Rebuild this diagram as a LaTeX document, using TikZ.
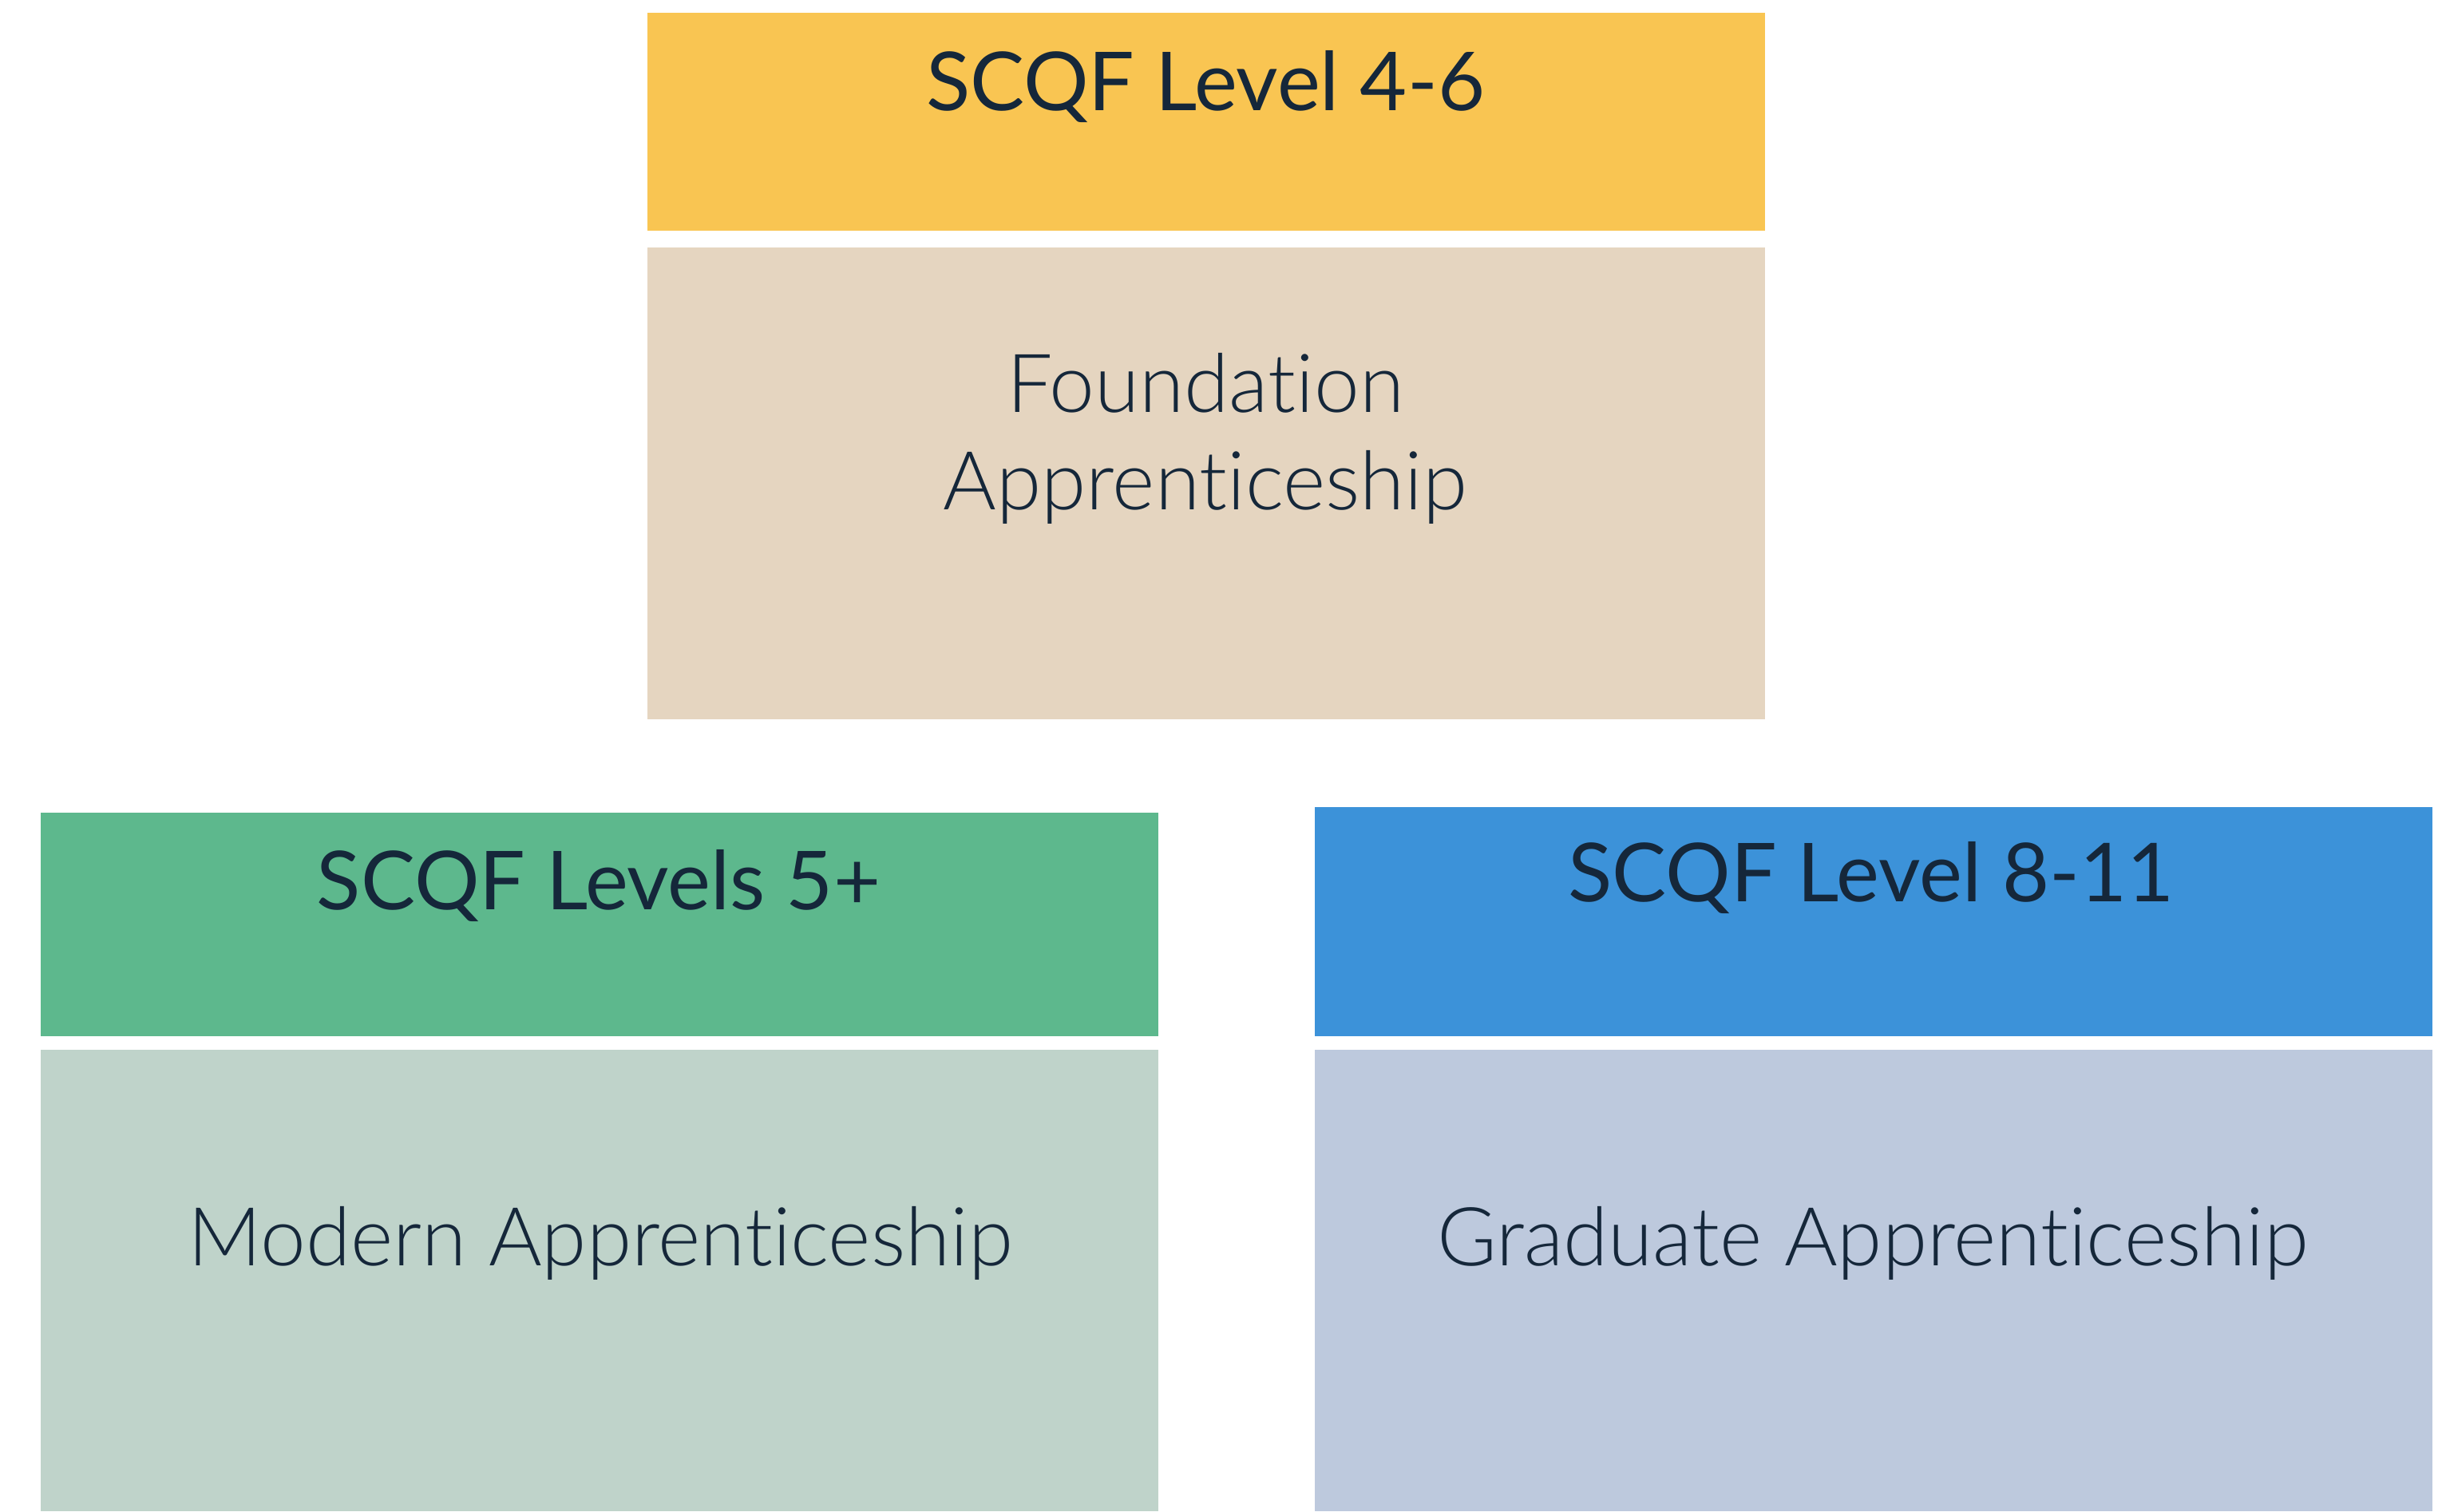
\documentclass[tikz,border=0pt]{standalone}
\usepackage{fontspec}
\setmainfont{Lato}
\newfontfamily\headfont[Ligatures=NoCommon]{Lato}
\newfontfamily\bodyfont[Ligatures=NoCommon]{Lato Light}
\definecolor{cyellow}{HTML}{F9C552}
\definecolor{cbeige}{HTML}{E5D5C0}
\definecolor{cgreen}{HTML}{5DB88D}
\definecolor{clgreen}{HTML}{BFD3CA}
\definecolor{cblue}{HTML}{3C92D9}
\definecolor{clblue}{HTML}{BDC9DD}
\definecolor{ctext}{HTML}{15273A}
\begin{document}
\begin{tikzpicture}[
  panel/.style={draw=none, anchor=south west, inner sep=0pt, minimum width=14cm},
  headtext/.style={anchor=base, inner sep=0pt, text=ctext, font=\headfont\fontsize{29}{34}\selectfont},
  bodytext/.style={anchor=base, inner sep=0pt, text=ctext, font=\bodyfont\fontsize{29}{34}\selectfont},
]
\useasboundingbox (0,0) rectangle (30.59,18.94);
% top column
\node[panel, fill=cyellow, minimum height=2.73cm] (fahead) at (8.10,16.04) {};
\node[panel, fill=cbeige, minimum height=5.91cm] (fabody) at (8.10,9.92) {};
% left column
\node[panel, fill=cgreen, minimum height=2.80cm] (mahead) at (0.50,5.95) {};
\node[panel, fill=clgreen, minimum height=5.78cm] (mabody) at (0.50,0) {};
% right column
\node[panel, fill=cblue, minimum height=2.87cm] (gahead) at (16.46,5.95) {};
\node[panel, fill=clblue, minimum height=5.78cm] (gabody) at (16.46,0) {};
% texts
\node[headtext] (fatitle) at (15.10,17.55) {SCQF Level 4-6};
\node[bodytext] (fa1) at (15.10,13.77) {Foundation};
\node[bodytext] (fa2) at (15.10,12.55) {Apprenticeship};
\node[headtext] (matitle) at (7.50,7.54) {SCQF Levels 5+};
\node[bodytext] (ma1) at (7.52,3.08) {Modern Apprenticeship};
\node[headtext] (gatitle) at (23.44,7.64) {SCQF Level 8-11};
\node[bodytext] (ga1) at (23.46,3.08) {Graduate Apprenticeship};
\end{tikzpicture}
\end{document}
